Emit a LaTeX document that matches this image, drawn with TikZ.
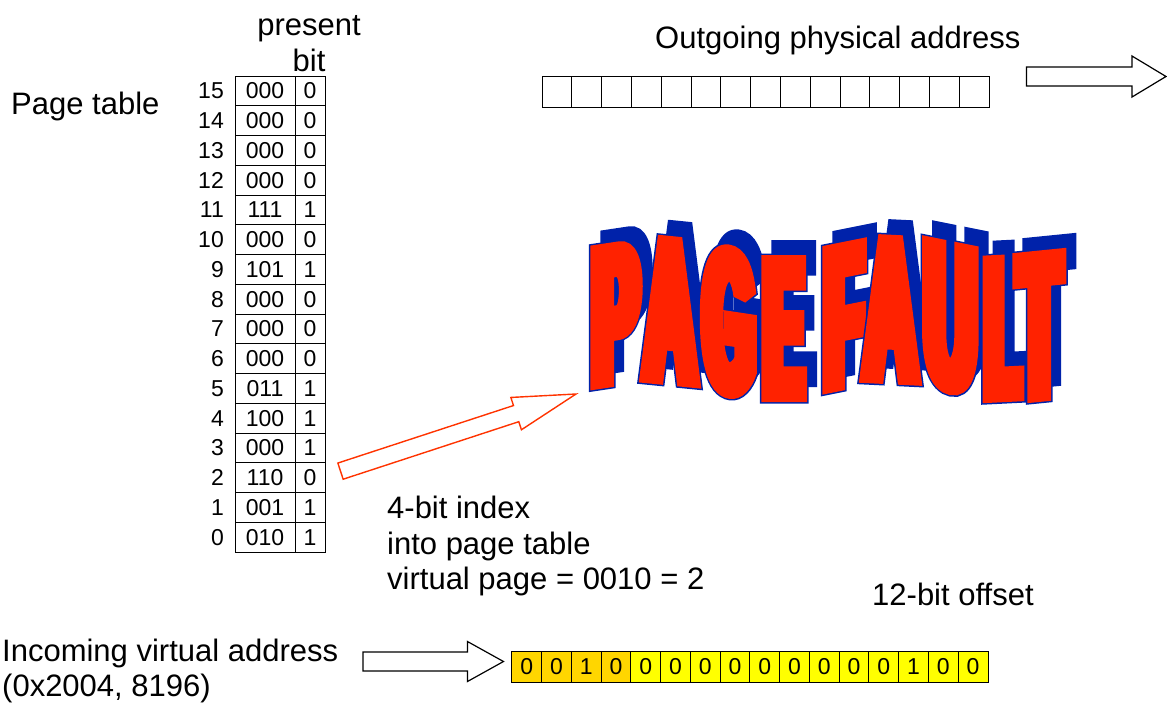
\documentclass[tikz,border=0pt]{standalone}
\usepackage{fontspec}
\setmainfont{Liberation Sans}
\newfontfamily\pffont{Liberation Sans}
\usetikzlibrary{calc}

\definecolor{pfred}{RGB}{255,34,0}
\definecolor{pfblue}{RGB}{0,34,170}
\definecolor{arrowred}{RGB}{255,51,0}
\definecolor{hibits}{RGB}{255,214,0}
\definecolor{lobits}{RGB}{255,255,0}

% hollow block arrow: #1 style, #2 tail, #3 tip, #4 half shaft width,
% #5 half head width, #6 head length
\newcommand\blockarrow[6]{%
  \coordinate (ba-n) at ($(#3)!#6!(#2)$);
  \draw[#1] ($(#2)!#4!90:(#3)$) -- ($(ba-n)!#4!90:(#3)$) -- ($(ba-n)!#5!90:(#3)$)
    -- (#3) -- ($(ba-n)!#5!-90:(#3)$) -- ($(ba-n)!#4!-90:(#3)$)
    -- ($(#2)!#4!-90:(#3)$) -- cycle;}

% text that is filled and stroked with the current colour (#1 = stroke width)
\makeatletter
\newcommand\strokedtext[2]{\pgfsys@beginscope\pgfsys@invoke{2 Tr 0 j 2 M #1 w}#2\pgfsys@endscope}
\makeatother
% one banner letter: #1 size, #2 horizontal stretch, #3 stroke width, #4 letter
\newcommand\pfglyph[4]{{\pffont\bfseries
  \edef\pfstretch{\noexpand\addfontfeature{FakeStretch=#2}}\pfstretch
  \fontsize{#1}{#1}\selectfont\strokedtext{#3}{#4}}}

\tikzset{
  lbl/.style={font=\fontsize{31}{36}\selectfont, inner sep=0, anchor=base west},
  cell/.style={draw, line width=1pt, minimum height=29.75pt, inner sep=0,
    font=\fontsize{23}{23}\selectfont},
  rowno/.style={inner sep=0, anchor=east, font=\fontsize{23}{23}\selectfont},
  bitcell/.style={draw, line width=1pt, minimum width=29.8pt, minimum height=31pt,
    inner sep=0, font=\fontsize{23}{23}\selectfont},
  glyph/.style={inner sep=0, outer sep=0, anchor=south west},
  hollow/.style={draw=black, fill=white, line width=1.2pt, line join=miter},
}

% banner letters, each tilted to follow the wave:
% left / bottom-left / size / stretch / side bearing / slant / letter
\newcommand\pfletters{591/390/190/0.357/5.2/0.15/P, 638/383/197/0.353/0/-0.1/A,
  700/395/198/0.322/2.8/-0.15/G, 762/402/193/0.292/4.3/0/E,
  823/394/195.5/0.307/4.6/0.2/F, 858/383/197/0.36/0/-0.05/A,
  923/390/201/0.352/5.2/-0.2/U, 983/403/194/0.278/3.9/0.05/L,
  1013/404/199.7/0.34/1.5/0.1/T}

\begin{document}
\begin{tikzpicture}[x=1pt, y=-1pt]
\useasboundingbox (0,0) rectangle (1167,702);

% ---- page table ----
\node[lbl] (ptlabel) at (11,114) {Page table};
\node[lbl, anchor=base] (present) at (309,35) {present};
\node[lbl, anchor=base] (presentbit) at (309,71) {bit};
\foreach \r/\val/\pb in {15/000/0, 14/000/0, 13/000/0, 12/000/0, 11/111/1,
    10/000/0, 9/101/1, 8/000/0, 7/000/0, 6/000/0, 5/011/1, 4/100/1,
    3/000/1, 2/110/0, 1/001/1, 0/010/1} {
  \pgfmathsetmacro\yc{76+(15-\r)*29.75+14.875}
  \node[cell, minimum width=60pt] (v\r) at (265,\yc) {\val};
  \node[cell, minimum width=30pt] (p\r) at (310,\yc) {\pb};
  \node[rowno] (n\r) at (224,\yc) {\r};
}

% ---- outgoing physical address ----
\node[lbl] (outlabel) at (655,48) {Outgoing physical address};
\foreach \i in {0,...,14}
  \node[bitcell] (o\i) at ({542+29.8*\i+14.9},91.5) {};
\coordinate (otail) at ($(o14.east)+(37,-15)$);
\coordinate (otip) at (1166,76.5);
\blockarrow{hollow}{otail}{otip}{9.5pt}{20.5pt}{34pt}

% ---- incoming virtual address ----
\node[lbl] (inlabel) at (2,661) {Incoming virtual address};
\node[lbl] (inval) at (2,696) {(0x2004, 8196)};
\foreach \bit [count=\i from 0] in {0,0,1,0,0,0,0,0,0,0,0,0,0,1,0,0} {
  \ifnum\i<4 \def\fc{hibits}\else\def\fc{lobits}\fi
  \node[bitcell, fill=\fc] (va\i) at ({512+29.75*\i+14.875},666.5) {\bit};
}
\coordinate (itail) at (363,661.5);
\coordinate (itip) at ($(va0.west)+(-8,-5)$);
\blockarrow{hollow}{itail}{itip}{9.5pt}{20pt}{36pt}

\node[lbl] (idx1) at (387,518) {4-bit index};
\node[lbl] (idx2) at (387,554) {into page table};
\node[lbl] (idx3) at (387,589) {virtual page = 0010 = 2};
\node[lbl] (offset) at (872,605) {12-bit offset};

% ---- PAGE FAULT banner ----
% blue shadow behind all letters
\foreach \x/\y/\fs/\st/\lsb/\sl/\g in \pfletters
  \node[glyph, yslant=\sl, text=pfblue] at (\x+7-\lsb+10,\y-7-15)
    {\pfglyph{\fs}{\st}{14}{\g}};
% red letters with a thin blue rim
\foreach \x/\y/\fs/\st/\lsb/\sl/\g [count=\k] in \pfletters {
  \node[glyph, yslant=\sl, text=pfblue] at (\x+7-\lsb,\y-7)
    {\pfglyph{\fs}{\st}{17}{\g}};
  \node[glyph, yslant=\sl, text=pfred] (pf\k) at (\x+7-\lsb,\y-7)
    {\pfglyph{\fs}{\st}{14}{\g}};
}

% ---- index arrow from the page table to the fault ----
\coordinate (rtail) at ($(p2.east)+(15,-6.5)$);
\coordinate (rtip) at (576,394);
\blockarrow{draw=arrowred, fill=white, line width=1.4pt}{rtail}{rtip}{8.5pt}{17pt}{63pt}

\end{tikzpicture}
\end{document}
